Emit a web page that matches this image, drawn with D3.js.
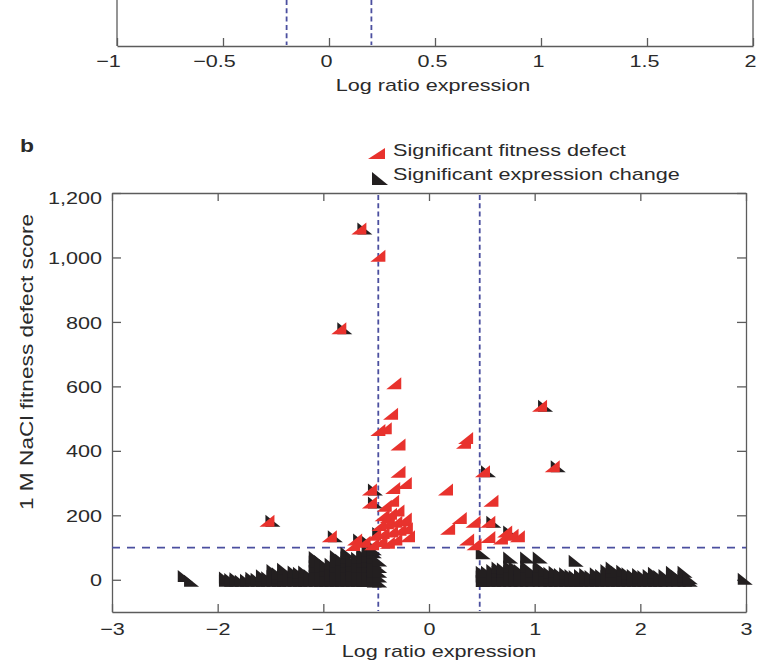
<!DOCTYPE html>
<html>
<head>
<meta charset="utf-8">
<script src="https://cdn.jsdelivr.net/npm/d3@7"></script>
<style>
  html, body { margin: 0; padding: 0; background: #fff; }
  svg { display: block; font-family: "Liberation Sans", Arial, Helvetica, sans-serif; }
</style>
</head>
<body>
<svg id="chart" width="759" height="662"></svg>
<script>
// ---- Panel a (lower strip): expression log-ratio axis ----
const panelATicks = [-1, -0.5, 0, 0.5, 1, 1.5, 2];
const panelACutoffs = [-0.2, 0.2];

// ---- Panel b: fitness defect vs. expression change ----
const xTicks = [-3, -2, -1, 0, 1, 2, 3];
const yTicks = [0, 200, 400, 600, 800, 1000, 1200];
const expressionCutoffs = [-0.48, 0.48];
const fitnessCutoff = 100;
const legendLabels = ["Significant fitness defect", "Significant expression change"];
const xTitle = "Log ratio expression";
const yTitle = "1 M NaCl fitness defect score";

// Genes with a significant fitness defect in 1 M NaCl: [log ratio, defect score]
const fitnessDefect = [
  [-0.64, 1090], [-0.46, 1005], [-0.83, 780], [-0.31, 610], [-0.34, 515],
  [-0.46, 465], [-0.40, 470], [-0.27, 420], [-0.27, 335], [-0.32, 285],
  [-0.21, 300], [-0.54, 280], [-0.54, 240], [-0.40, 230], [-0.33, 245],
  [-0.42, 200], [-0.35, 205], [-0.28, 215], [-0.37, 195], [-0.45, 170],
  [-0.38, 175], [-0.30, 180], [-0.22, 185], [-0.21, 190], [-0.50, 140],
  [-0.42, 145], [-0.34, 150], [-0.26, 155], [-0.20, 160], [-0.18, 135],
  [-0.44, 120], [-0.37, 115], [-0.30, 125], [-0.52, 110], [-0.60, 118],
  [-0.68, 125], [-0.70, 108], [-0.92, 135], [-1.51, 183],
  [0.18, 280], [0.35, 425], [0.37, 440], [0.53, 337], [0.61, 245],
  [1.07, 540], [1.19, 352], [0.31, 192], [0.20, 158], [0.44, 180],
  [0.58, 180], [0.38, 125], [0.45, 110], [0.58, 133], [0.70, 128],
  [0.74, 150], [0.80, 140], [0.86, 135]
];

// Genes with a significant expression change: [log ratio, defect score]
const expressionChange = [
  // also showing a fitness defect
  [-0.64, 1090], [-0.83, 780], [-0.54, 280], [-0.54, 240], [-1.51, 183],
  [-0.92, 135], [-0.68, 125], [-0.60, 118], [-0.50, 145],
  [1.07, 540], [1.19, 352], [0.53, 337], [0.58, 180], [0.74, 150],
  // isolated
  [0.48, 82], [1.36, 59], [2.96, 3], [-2.34, 12], [-2.28, -3],
  // repressed genes
  [-1.95, -3], [-1.95, 7],
  [-1.90, -3], [-1.90, 2],
  [-1.85, -2], [-1.85, 5],
  [-1.80, -3],
  [-1.75, -3], [-1.75, 0],
  [-1.70, -2], [-1.70, 6],
  [-1.65, -3], [-1.65, 3],
  [-1.60, -3], [-1.60, 14],
  [-1.55, -2], [-1.55, 8],
  [-1.50, -3], [-1.50, 12], [-1.50, 30],
  [-1.45, -3], [-1.45, 8], [-1.45, 20],
  [-1.40, -3], [-1.40, 14], [-1.40, 34],
  [-1.35, -2], [-1.35, 18],
  [-1.30, -3], [-1.30, 12], [-1.30, 26],
  [-1.25, -3], [-1.25, 10], [-1.25, 22],
  [-1.20, -3], [-1.20, 12], [-1.20, 26],
  [-1.15, -2], [-1.15, 15],
  [-1.10, -3], [-1.10, 12], [-1.10, 27], [-1.10, 42], [-1.10, 57], [-1.10, 71],
  [-1.05, -3], [-1.05, 12], [-1.05, 27], [-1.05, 42], [-1.05, 58],
  [-1.00, -3], [-1.00, 12], [-1.00, 28], [-1.00, 45],
  [-0.95, -3], [-0.95, 14], [-0.95, 30], [-0.95, 50],
  [-0.90, -3], [-0.90, 12], [-0.90, 27], [-0.90, 42], [-0.90, 57], [-0.90, 74],
  [-0.85, -3], [-0.85, 14], [-0.85, 30], [-0.85, 46], [-0.85, 62],
  [-0.80, -3], [-0.80, 12], [-0.80, 27], [-0.80, 42], [-0.80, 57], [-0.80, 70], [-0.80, 84],
  [-0.75, -3], [-0.75, 14], [-0.75, 30], [-0.75, 45], [-0.75, 60],
  [-0.70, -3], [-0.70, 12], [-0.70, 27], [-0.70, 42], [-0.70, 55], [-0.70, 68],
  [-0.65, -4], [-0.65, 12], [-0.65, 27], [-0.65, 42], [-0.65, 57], [-0.65, 70], [-0.65, 80],
  [-0.60, -4], [-0.60, 12], [-0.60, 27], [-0.60, 42], [-0.60, 57], [-0.60, 72], [-0.60, 90],
  [-0.55, -5], [-0.55, 10], [-0.55, 25], [-0.55, 40], [-0.55, 55], [-0.55, 70], [-0.55, 85], [-0.55, 95],
  [-0.50, -5], [-0.50, 10], [-0.50, 25], [-0.50, 40], [-0.50, 60],
  // induced genes
  [0.48, -4], [0.48, 10], [0.48, 25],
  [0.53, -3], [0.53, 10], [0.53, 25],
  [0.58, -3], [0.58, 12], [0.58, 30],
  [0.63, -3], [0.63, 12], [0.63, 25], [0.63, 38],
  [0.68, -3], [0.68, 12], [0.68, 25], [0.68, 35],
  [0.74, -3], [0.74, 12], [0.74, 27], [0.74, 42], [0.74, 69],
  [0.79, -3], [0.79, 12], [0.79, 27], [0.79, 40],
  [0.84, -3], [0.84, 12], [0.84, 30],
  [0.90, -3], [0.90, 12], [0.90, 27], [0.90, 42], [0.90, 69],
  [0.95, -3], [0.95, 10], [0.95, 25],
  [1.02, -3], [1.02, 12], [1.02, 27], [1.02, 42], [1.02, 69],
  [1.07, -3], [1.07, 12], [1.07, 28],
  [1.12, -3], [1.12, 8], [1.12, 22],
  [1.17, -3], [1.17, 10], [1.17, 25],
  [1.22, -3], [1.22, 18],
  [1.27, -3], [1.27, 8], [1.27, 20],
  [1.32, -3], [1.32, 15],
  [1.36, -3], [1.36, 12],
  [1.41, -3], [1.41, 15],
  [1.46, -3], [1.46, 8], [1.46, 18],
  [1.51, -3], [1.51, 12],
  [1.56, -3], [1.56, 8], [1.56, 20],
  [1.61, -3], [1.61, 15],
  [1.66, -3], [1.66, 12], [1.66, 30],
  [1.71, -3], [1.71, 12], [1.71, 25], [1.71, 38],
  [1.76, -3], [1.76, 12], [1.76, 25],
  [1.81, -3], [1.81, 12], [1.81, 28],
  [1.86, -3], [1.86, 8], [1.86, 20],
  [1.91, -3], [1.91, 15],
  [1.96, -3], [1.96, 8], [1.96, 18],
  [2.01, -3], [2.01, 12],
  [2.06, -3], [2.06, 15],
  [2.11, -3], [2.11, 8], [2.11, 22],
  [2.16, -3], [2.16, 12],
  [2.21, -3], [2.21, 15],
  [2.28, -3], [2.28, 10], [2.28, 25],
  [2.33, -3], [2.33, 12],
  [2.39, -3], [2.39, 10], [2.39, 25],
  [2.44, -3], [2.44, 5]
];

// ---- styling ----
const TEXT_SX = 1.27;          // horizontal text stretch used throughout the figure
const ink = "#2a2a2a";
const axisInk = "#5c5c5c";
const dashInk = "#4b4f9f";
const redFill = "#e8322d";
const darkFill = "#231f20";
const fontSize = 17;

const svg = d3.select("#chart");

function styleAxis(g) {
  g.selectAll(".domain").attr("stroke", axisInk).attr("stroke-width", 1.3);
  g.selectAll(".tick line").attr("stroke", axisInk).attr("stroke-width", 1.3);
  g.selectAll(".tick text").attr("fill", ink).attr("font-size", fontSize)
    .attr("font-family", "'Liberation Sans', Arial, Helvetica, sans-serif");
}

function label(parent, x, y, str, opts = {}) {
  return parent.append("text")
    .attr("transform", `translate(${x},${y}) scale(${opts.sx || TEXT_SX},1)`)
    .attr("text-anchor", opts.anchor || "start")
    .attr("font-size", opts.size || fontSize)
    .attr("font-weight", opts.weight || "normal")
    .attr("fill", ink)
    .text(str);
}

// ================= Panel a =================
const xa = d3.scaleLinear().domain([-1, 2]).range([117, 753]);
const axisAY = 46;
const ga = svg.append("g");

ga.append("g")
  .attr("transform", `translate(0,${axisAY})`)
  .call(d3.axisBottom(xa).tickValues(panelATicks).tickSize(-8).tickSizeOuter(0)
    .tickPadding(9).tickFormat(d3.format("~g")))
  .call(styleAxis)
  // labels in this strip sit a little left of their ticks, more so for negatives
  .call(g => g.selectAll(".tick text")
    .attr("transform", d => `translate(${d < 0 ? -9 : -3},0) scale(${TEXT_SX},1)`));

[-1, 2].forEach(v => {
  ga.append("line")
    .attr("x1", xa(v)).attr("x2", xa(v)).attr("y1", 0).attr("y2", axisAY)
    .attr("stroke", axisInk).attr("stroke-width", 1.3);
});

panelACutoffs.forEach(v => {
  ga.append("line")
    .attr("x1", xa(v)).attr("x2", xa(v)).attr("y1", 0).attr("y2", axisAY - 1)
    .attr("stroke", dashInk).attr("stroke-width", 1.8).attr("stroke-dasharray", "5,3.3");
});

label(ga, 433, 91, xTitle, { anchor: "middle" });

// ================= Panel b =================
const plot = { left: 112, right: 746, top: 193, bottom: 612 };
const x = d3.scaleLinear().domain([-3, 3]).range([plot.left, plot.right]);
const y = d3.scaleLinear().domain([-100, 1200]).range([plot.bottom, plot.top]);
const gb = svg.append("g");

label(gb, 20, 152, "b", { weight: "bold", size: 18 });

// frame with inward ticks on all four sides
gb.append("g").attr("transform", `translate(0,${plot.bottom})`)
  .call(d3.axisBottom(x).tickValues(xTicks).tickSize(-8).tickSizeOuter(0).tickPadding(11)
    .tickFormat(d3.format("d")))
  .call(styleAxis)
  .call(g => g.selectAll(".tick text").attr("transform", `scale(${TEXT_SX},1)`));

gb.append("g").attr("transform", `translate(0,${plot.top})`)
  .call(d3.axisTop(x).tickValues(xTicks).tickSize(-8).tickSizeOuter(0).tickFormat(""))
  .call(styleAxis);

gb.append("g").attr("transform", `translate(${plot.left},0)`)
  .call(d3.axisLeft(y).tickValues(yTicks).tickSize(-9).tickSizeOuter(0).tickFormat(d3.format(",")))
  .call(styleAxis)
  .call(g => g.selectAll(".tick text")
    .attr("x", 0).attr("dy", d => d === 1200 ? "0.6em" : "0.36em")
    .attr("transform", `translate(-10,0) scale(${TEXT_SX},1)`));

gb.append("g").attr("transform", `translate(${plot.right},0)`)
  .call(d3.axisRight(y).tickValues(yTicks).tickSize(-9).tickSizeOuter(0).tickFormat(""))
  .call(styleAxis);

// cut-off lines
expressionCutoffs.forEach(v => {
  gb.append("line")
    .attr("x1", x(v)).attr("x2", x(v)).attr("y1", plot.top + 2).attr("y2", plot.bottom - 1)
    .attr("stroke", dashInk).attr("stroke-width", 1.8).attr("stroke-dasharray", "5,3.3");
});
gb.append("line")
  .attr("x1", plot.left).attr("x2", plot.right)
  .attr("y1", y(fitnessCutoff)).attr("y2", y(fitnessCutoff))
  .attr("stroke", dashInk).attr("stroke-width", 1.8).attr("stroke-dasharray", "8,7");

// marker shapes: right-angled triangles, width w, height h
const redTri = (px, py, w = 15, h = 12) =>
  `M${px - 10},${py + h / 2}L${px - 10 + w},${py + h / 2}L${px - 10 + w},${py - h / 2}Z`;
const darkTri = (px, py, w = 15, h = 12) =>
  `M${px - 4},${py - h / 2}L${px - 4},${py + h / 2}L${px - 4 + w},${py + h / 2}Z`;

gb.append("g").selectAll("path")
  .data(expressionChange).join("path")
  .attr("d", d => darkTri(x(d[0]), y(d[1])))
  .attr("fill", darkFill);

gb.append("g").selectAll("path")
  .data(fitnessDefect).join("path")
  .attr("d", d => redTri(x(d[0]), y(d[1])))
  .attr("fill", redFill);

// legend
const legend = gb.append("g");
legend.append("path").attr("d", redTri(378, 153.5, 17, 11)).attr("fill", redFill);
legend.append("path").attr("d", darkTri(376, 178.5, 16, 13)).attr("fill", darkFill);
label(legend, 393, 155.5, legendLabels[0]);
label(legend, 393, 180, legendLabels[1]);

// axis titles
label(gb, 439, 657, xTitle, { anchor: "middle" });
gb.append("text")
  .attr("transform", `translate(33,362) rotate(-90) scale(1.26,1)`)
  .attr("text-anchor", "middle")
  .attr("font-size", 18)
  .attr("fill", ink)
  .text(yTitle);
</script>
</body>
</html>
